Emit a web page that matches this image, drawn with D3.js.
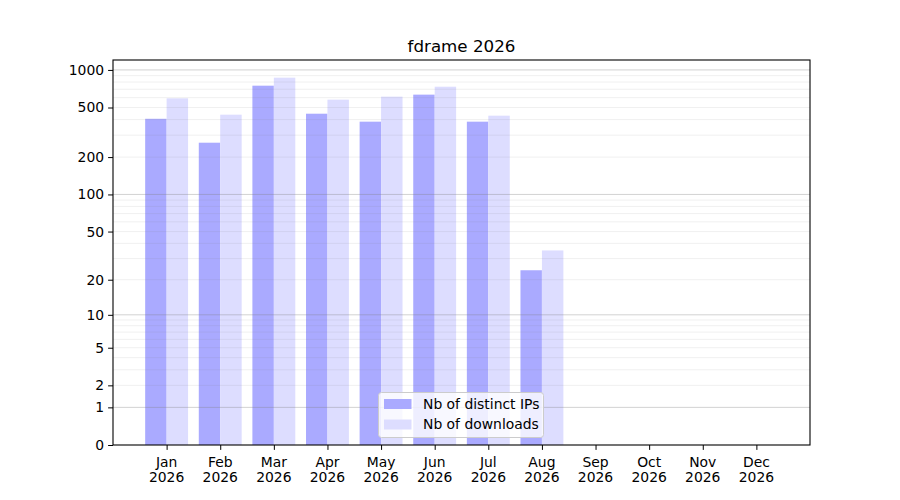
<!DOCTYPE html>
<html>
<head>
<meta charset="utf-8">
<script src="https://cdn.jsdelivr.net/npm/d3@7"></script>
<style>
body{margin:0;background:#fff;}
text{font-family:"DejaVu Sans",sans-serif;fill:#000;}
</style>
</head>
<body>
<svg id="chart" width="900" height="500"></svg>
<script>
const months = ["Jan","Feb","Mar","Apr","May","Jun","Jul","Aug","Sep","Oct","Nov","Dec"];
const yearLabel = "2026";
const distinctIPs = [406, 261, 748, 446, 385, 634, 385, 24, null, null, null, null];
const downloads   = [592, 438, 867, 578, 611, 734, 430, 35, null, null, null, null];
const yTickValues = [0, 1, 2, 5, 10, 20, 50, 100, 200, 500, 1000];
const majorGrid = [1, 10, 100, 1000];
const minorGrid = [2,3,4,5,6,7,8,9,20,30,40,50,60,70,80,90,200,300,400,500,600,700,800,900];
const seriesNames = ["Nb of distinct IPs", "Nb of downloads"];
const title = "fdrame 2026";

const svg = d3.select("#chart");
const L = 113, R = 810, T = 60, B = 445;
const f = v => Math.log10(1 + v);
const x = d3.scaleLinear().domain([-1, 12]).range([L, R]);
const yl = d3.scaleLinear().domain([0, f(1201)]).range([B, T]);
const y = v => yl(f(v));
const bw = 0.4;

// bars
const g = svg.append("g");
g.selectAll("rect.ip").data(distinctIPs.map((v,i)=>({v,i})).filter(d=>d.v!=null))
  .enter().append("rect").attr("class","ip")
  .attr("x", d => x(d.i - bw)).attr("width", d => x(d.i) - x(d.i - bw))
  .attr("y", d => y(d.v)).attr("height", d => B - y(d.v))
  .attr("fill", "#aaaaff");
g.selectAll("rect.dl").data(downloads.map((v,i)=>({v,i})).filter(d=>d.v!=null))
  .enter().append("rect").attr("class","dl")
  .attr("x", d => x(d.i)).attr("width", d => x(d.i + bw) - x(d.i))
  .attr("y", d => y(d.v)).attr("height", d => B - y(d.v))
  .attr("fill", "#ddddff");

// grid
svg.append("g").selectAll("line").data(minorGrid).enter().append("line")
  .attr("x1", L).attr("x2", R).attr("y1", d => y(d)).attr("y2", d => y(d))
  .attr("stroke", "#808080").attr("stroke-opacity", 0.15).attr("stroke-width", 0.8);
svg.append("g").selectAll("line").data(majorGrid).enter().append("line")
  .attr("x1", L).attr("x2", R).attr("y1", d => y(d)).attr("y2", d => y(d))
  .attr("stroke", "#808080").attr("stroke-opacity", 0.45).attr("stroke-width", 0.8);

// frame
svg.append("rect").attr("x", L).attr("y", T).attr("width", R-L).attr("height", B-T)
  .attr("fill", "none").attr("stroke", "#000").attr("stroke-width", 1.1);

// y axis
const yAxis = d3.axisLeft(yl)
  .tickValues(yTickValues.map(f))
  .tickFormat((d,i) => String(yTickValues[i]))
  .tickSizeOuter(0).tickSize(4.9).tickPadding(4);
const ya = svg.append("g").attr("transform", `translate(${L},0)`).call(yAxis);
ya.select(".domain").remove();
ya.selectAll("text").style("font-size", "13.9px").style("font-family", '"DejaVu Sans",sans-serif');
ya.selectAll("line").attr("stroke-width", 1);

// x axis
const xAxis = d3.axisBottom(x).tickValues(d3.range(12)).tickFormat("").tickSize(4.9).tickSizeOuter(0);
const xa = svg.append("g").attr("transform", `translate(0,${B})`).call(xAxis);
xa.select(".domain").remove();
const xl = svg.append("g");
xl.selectAll("text.m").data(months).enter().append("text")
  .attr("x", (d,i) => x(i)).attr("y", 467).attr("text-anchor", "middle")
  .style("font-size", "13.9px").text(d => d);
xl.selectAll("text.yr").data(months).enter().append("text")
  .attr("x", (d,i) => x(i)).attr("y", 482).attr("text-anchor", "middle")
  .style("font-size", "13.9px").text(yearLabel);

// title
svg.append("text").attr("x", (L+R)/2).attr("y", 52).attr("text-anchor", "middle")
  .style("font-size", "16.7px").text(title);

// legend
const lg = svg.append("g");
lg.append("rect").attr("x", 378.5).attr("y", 392.5).attr("width", 165).attr("height", 45)
  .attr("rx", 3).attr("fill", "#fff").attr("fill-opacity", 0.8).attr("stroke", "#cccccc");
const colors = ["#aaaaff", "#ddddff"];
seriesNames.forEach((n, i) => {
  lg.append("rect").attr("x", 384).attr("y", 399 + i*20.5).attr("width", 27.5).attr("height", 10)
    .attr("fill", colors[i]);
  lg.append("text").attr("x", 423).attr("y", 408.5 + i*20.5).style("font-size", "13.9px").text(n);
});
</script>
</body>
</html>
